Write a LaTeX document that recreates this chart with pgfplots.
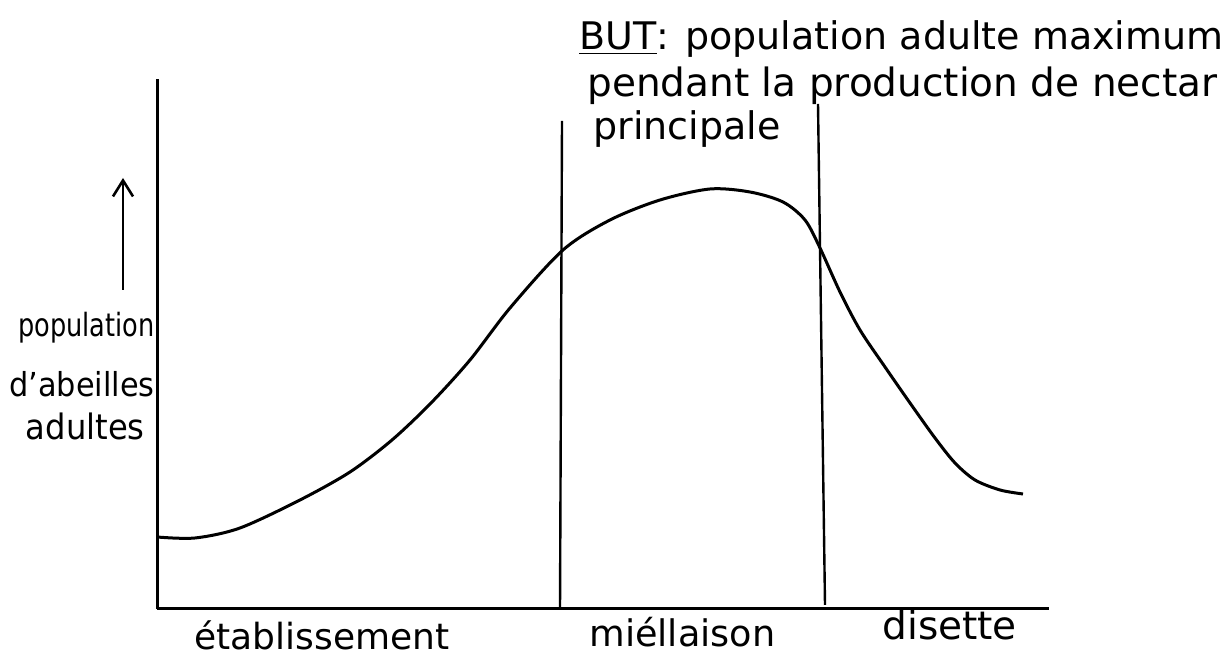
\documentclass[border=0pt]{standalone}
\usepackage{pgfplots}
\pgfplotsset{compat=1.18}
\usetikzlibrary{arrows.meta}
\usepackage{fontspec}
\setmainfont{DejaVu Sans}
\newfontfamily\condA[FakeStretch=0.8, Ligatures=TeX]{DejaVu Sans}
\newfontfamily\condB[FakeStretch=0.92, Ligatures=TeX]{DejaVu Sans}
\begin{document}
\begin{tikzpicture}
\begin{axis}[
  scale only axis,
  width=446bp, height=265bp,
  xmin=157, xmax=1049, ymin=51, ymax=581,
  enlargelimits=false,
  axis x line=bottom, axis y line=left,
  axis line style={-, line width=1.5bp},
  every outer x axis line/.append style={line width=1.5bp},
  every outer y axis line/.append style={line width=1.5bp},
  xtick=\empty, ytick=\empty,
  clip=false,
]
% invisible frame giving the picture its size
\path (axis cs:0,0) rectangle (axis cs:1228,660);
% population curve
\addplot[line width=1.5bp, smooth] coordinates {
 (157,123) (195,122) (240,132) (300,160) (350,188) (392,220) (431,257)
 (470,300) (510,352) (563,410) (610,440) (660,460) (710,471) (750,468)
 (783,458) (805,440) (820,412) (840,368) (860,330) (885,293) (910,257)
 (935,222) (955,197) (975,180) (1000,170) (1023,166)
};
% period separators
\addplot[line width=1.2bp] coordinates {(562,539) (560,50)};
\addplot[line width=1.2bp] coordinates {(818,556) (825,55)};
% arrow
\addplot[line width=1.3bp, -{Straight Barb[length=8bp, width=10bp]}] coordinates {(123,370) (123,482)};
% texts
\node[anchor=base west, inner sep=0, font=\fontsize{19bp}{22bp}\selectfont] at (axis cs:579,610) {\underline{BUT}: population adulte maximum};
\node[anchor=base west, inner sep=0, font=\fontsize{19.5bp}{22bp}\selectfont] at (axis cs:587,563) {pendant la production de nectar};
\node[anchor=base west, inner sep=0, font=\fontsize{19bp}{22bp}\selectfont] at (axis cs:593,520) {principale};
\node[anchor=base east, inner sep=0, font=\condA\fontsize{16bp}{19bp}\selectfont] at (axis cs:155,323) {population};
\node[anchor=base east, inner sep=0, font=\condB\fontsize{16.5bp}{19bp}\selectfont] at (axis cs:155,263) {d’abeilles};
\node[anchor=base east, inner sep=0, font=\condB\fontsize{17.5bp}{20bp}\selectfont] at (axis cs:145,220) {adultes};
\node[anchor=base west, inner sep=0, font=\fontsize{18bp}{21bp}\selectfont] at (axis cs:194,10) {établissement};
\node[anchor=base west, inner sep=0, font=\fontsize{18.3bp}{21bp}\selectfont] at (axis cs:589,13) {miéllaison};
\node[anchor=base west, inner sep=0, font=\fontsize{19.5bp}{22bp}\selectfont] at (axis cs:882,20) {disette};
\end{axis}
\end{tikzpicture}
\end{document}
